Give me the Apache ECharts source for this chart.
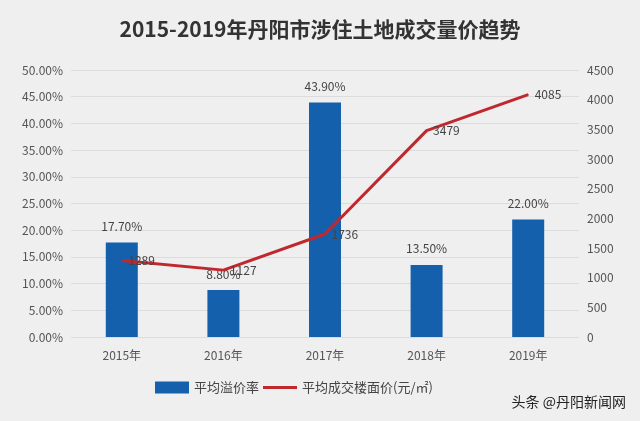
<!DOCTYPE html>
<html><head><meta charset="utf-8">
<script src="https://cdn.jsdelivr.net/npm/echarts@6/dist/echarts.min.js"></script>
<style>html,body{margin:0;padding:0;background:#efefef}#c{width:640px;height:421px}</style>
</head><body><div id="c"></div>
<script>
const categories=['2015年','2016年','2017年','2018年','2019年'];
const premiumRate=[17.70,8.80,43.90,13.50,22.00];
const floorPrice=[1289,1127,1736,3479,4085];
const chart=echarts.init(document.getElementById('c'));
const ff='"Noto Sans CJK SC","DejaVu Sans",sans-serif';
chart.setOption({
  backgroundColor:'#efefef',
  textStyle:{fontFamily:ff},
  title:{text:'2015-2019年丹阳市涉住土地成交量价趋势',left:'center',top:14,textStyle:{fontSize:21,fontWeight:'bold',color:'#333',fontFamily:ff}},
  legend:{bottom:22,left:150,itemGap:4,itemWidth:34,itemHeight:12,textStyle:{fontSize:13,color:'#444'},
    data:[{name:'平均溢价率',icon:'rect'},{name:'平均成交楼面价(元/㎡)',icon:'path://M0,5L34,5L34,8L0,8Z'}]},
  grid:{left:71,right:61,top:70,bottom:84},
  xAxis:{type:'category',data:categories,axisLine:{show:false},axisTick:{show:false},axisLabel:{color:'#555',fontSize:12,margin:12}},
  yAxis:[
    {type:'value',min:0,max:50,interval:5,axisLabel:{formatter:v=>v.toFixed(2)+'%',color:'#555',fontSize:12},splitLine:{lineStyle:{color:'#dcdcdc'}},axisLine:{show:false}},
    {type:'value',min:0,max:4500,interval:500,axisLabel:{formatter:v=>String(v),color:'#555',fontSize:12},splitLine:{show:false},axisLine:{show:false}}
  ],
  series:[
    {name:'平均溢价率',type:'bar',data:premiumRate,barWidth:32,itemStyle:{color:'#1560ac'},
      label:{show:true,position:'top',formatter:p=>p.value.toFixed(2)+'%',color:'#444',fontSize:12,distance:10}},
    {name:'平均成交楼面价(元/㎡)',type:'line',yAxisIndex:1,data:floorPrice,symbol:'circle',symbolSize:1,showSymbol:true,lineStyle:{color:'#c0282e',width:3},itemStyle:{color:'#c0282e'},
      label:{show:true,position:'right',color:'#444',fontSize:12,distance:6}}
  ],
  graphic:[{type:'text',right:14,bottom:12,style:{text:'头条 @丹阳新闻网',fill:'#222',font:'14px '+ff}}]
});
</script></body></html>
